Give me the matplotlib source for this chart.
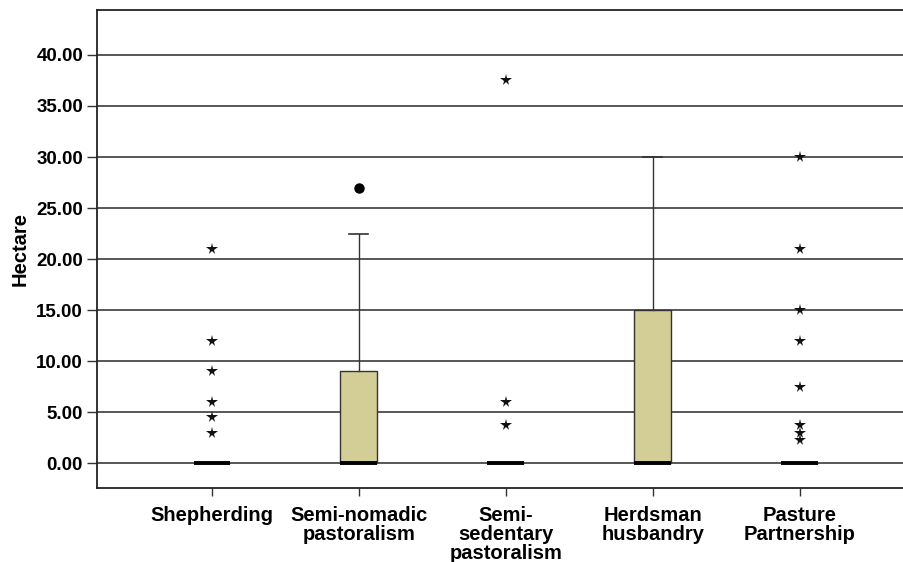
import matplotlib
matplotlib.use("Agg")
import matplotlib.pyplot as plt

plt.rcParams['font.family'] = ['Liberation Sans', 'DejaVu Sans']

# Farming system categories
categories = ["Shepherding", "Semi-nomadic\npastoralism", "Semi-\nsedentary\npastoralism",
              "Herdsman\nhusbandry", "Pasture\nPartnership"]

# Box summary (hectare)
q1 = [0.0, 0.0, 0.0, 0.0, 0.0]
medians = [0.0, 0.0, 0.0, 0.0, 0.0]
q3 = [0.0, 9.0, 0.0, 15.0, 0.0]
whisker_low = [0.0, 0.0, 0.0, 0.0, 0.0]
whisker_high = [0.0, 22.5, 0.0, 30.0, 0.0]

# Outliers (circles) and extreme values (stars)
outliers = [[], [27.0], [], [], []]
extremes = [
    [21.0, 12.0, 9.0, 6.0, 4.5, 3.0],
    [],
    [37.5, 6.0, 3.75],
    [],
    [30.0, 21.0, 15.0, 12.0, 7.5, 3.75, 3.0, 2.25],
]

yticks = [0, 5, 10, 15, 20, 25, 30, 35, 40]

fig = plt.figure(figsize=(9.04, 5.62), dpi=100)
ax = fig.add_axes([0.1073, 0.1317, 0.8927, 0.8505])

positions = list(range(1, len(categories) + 1))
stats = []
for i in range(len(categories)):
    stats.append(dict(q1=q1[i], med=medians[i], q3=q3[i],
                      whislo=whisker_low[i], whishi=whisker_high[i], fliers=[]))

ax.bxp(stats, positions=positions, widths=0.25, patch_artist=True,
       showfliers=False, capwidths=0.13,
       boxprops=dict(facecolor='#D2CE96', edgecolor='#333333', linewidth=1.0),
       medianprops=dict(color='black', linewidth=2.8, solid_capstyle='butt'),
       whiskerprops=dict(color='#333333', linewidth=1.0),
       capprops=dict(color='#333333', linewidth=1.2))

for p, vals in zip(positions, outliers):
    if vals:
        ax.plot([p] * len(vals), vals, linestyle='none', marker='o',
                markersize=6.5, color='black', zorder=5)
for p, vals in zip(positions, extremes):
    if vals:
        ax.plot([p] * len(vals), vals, linestyle='none', marker='*',
                markersize=8.5, color='#111111', markeredgewidth=0, zorder=5)

ax.set_xlim(0.218, 5.71)
ax.set_ylim(-2.42, 44.4)

ax.set_yticks(yticks)
ax.set_yticklabels([f"{v:.2f}" for v in yticks], fontsize=13.5, fontweight='bold')
ax.set_xticks(positions)
ax.set_xticklabels(categories, fontsize=14.5, fontweight='bold', linespacing=1.0)

ax.yaxis.grid(True, color='#2a2a2a', linewidth=1.1)
ax.set_axisbelow(True)

ax.tick_params(axis='y', length=7, width=1.0, pad=3, color='#333333')
ax.tick_params(axis='x', length=6, width=1.0, pad=7, color='#333333')

for side in ['left', 'top', 'bottom']:
    ax.spines[side].set_linewidth(1.3)
    ax.spines[side].set_color('#222222')
ax.spines['right'].set_visible(False)

ax.set_ylabel("Hectare", fontsize=14.5, fontweight='bold', labelpad=5)

fig.savefig("out.png", dpi=100)
